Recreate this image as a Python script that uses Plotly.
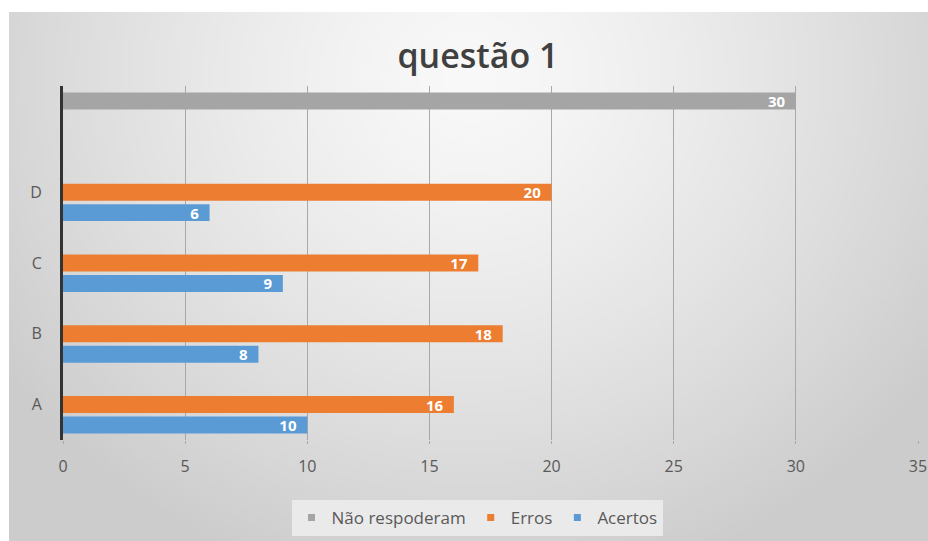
import base64, struct, zlib
import numpy as np
import plotly.graph_objects as go

# ---- data ----
categories = ["A", "B", "C", "D", " "]
acertos_cats = ["A", "B", "C", "D"]
acertos = [10, 8, 9, 6]
erros_cats = ["A", "B", "C", "D"]
erros = [16, 18, 17, 20]
nao_cats = [" "]
nao_responderam = [30]
x_ticks = [0, 5, 10, 15, 20, 25, 30, 35]

FONT = "Open Sans"
W, H = 928, 541
L, R, T, B = 63, 10, 86, 101
pw, ph = W - L - R, H - T - B

COL_A, COL_E, COL_N = "#5b9bd5", "#ed7d31", "#a5a5a5"

# ---- background gradient image (style only) ----
def gradient_png(w=240, h=140):
    yy, xx = np.mgrid[0:h, 0:w]
    cx, cy = w * 0.5, h * 0.12
    d = np.sqrt(((xx - cx) / (w * 0.62)) ** 2 + ((yy - cy) / (h * 1.0)) ** 2)
    d = np.clip(d, 0, 1)
    v = (249 - (249 - 204) * d ** 1.3).astype(np.uint8)
    raw = b"".join(b"\x00" + bytes(np.stack([row, row, row], axis=1).flatten()) for row in v)
    def chunk(t, data):
        c = struct.pack(">I", len(data)) + t + data
        return c + struct.pack(">I", zlib.crc32(t + data) & 0xffffffff)
    png = b"\x89PNG\r\n\x1a\n" + chunk(b"IHDR", struct.pack(">IIBBBBB", w, h, 8, 2, 0, 0, 0)) \
        + chunk(b"IDAT", zlib.compress(raw, 9)) + chunk(b"IEND", b"")
    return "data:image/png;base64," + base64.b64encode(png).decode()

fig = go.Figure()
label_font = dict(family=FONT, size=15, color="white", weight="bold")
for name, ys, xs, col in [("Acertos", acertos_cats, acertos, COL_A),
                          ("Erros", erros_cats, erros, COL_E),
                          ("Não respoderam", nao_cats, nao_responderam, COL_N)]:
    fig.add_trace(go.Bar(name=name, y=ys, x=xs, orientation="h", marker_color=col,
                         marker_line_width=0, texttemplate="%{x}\u00a0\u00a0",
                         textposition="inside",
                         insidetextanchor="end", textangle=0, textfont=label_font,
                         cliponaxis=False, showlegend=False))
# legend entries with small square swatches
for name, col in [("Acertos", COL_A), ("Erros", COL_E), ("Não respoderam", COL_N)]:
    fig.add_trace(go.Scatter(name=name, x=[None], y=[None], mode="markers",
                             marker=dict(symbol="square", size=7, color=col), showlegend=True))

x0p = (9 - L) / pw
x1p = (W - L) / pw
y1p = (T + ph - 12) / ph
y0p = (T + ph - H) / ph

fig.update_layout(
    width=W, height=H,
    margin=dict(l=L, r=R, t=T, b=B, autoexpand=False),
    paper_bgcolor="white",
    plot_bgcolor="rgba(0,0,0,0)",
    barmode="group",
    bargap=0.134,
    bargroupgap=0.17,
    uniformtext=dict(mode="show", minsize=15),
    title=dict(text="questão 1", x=478 / W, xanchor="center", y=1 - 56 / H, yanchor="middle",
               font=dict(family=FONT, size=34, color="#404040", weight=600)),
    legend=dict(orientation="h", traceorder="reversed", x=(477 - L) / pw, xanchor="center",
                y=(T + ph - 518) / ph, yanchor="middle",
                font=dict(family=FONT, size=17, color="#595959"),
                bgcolor="rgba(236,236,236,0.9)", itemwidth=30, tracegroupgap=0),
    xaxis=dict(range=[0, 35], tickvals=x_ticks, showgrid=True, gridcolor="#a8a8a8", gridwidth=1,
               zeroline=False, ticks="outside", ticklen=3, tickcolor="#a8a8a8",
               automargin=False, ticklabelstandoff=9,
               tickfont=dict(family=FONT, size=16, color="#595959"), fixedrange=True),
    yaxis=dict(categoryorder="array", categoryarray=categories, showgrid=False,
               showline=True, linecolor="#333333", linewidth=3, ticks="",
               ticklabelstandoff=15, automargin=False,
               tickfont=dict(family=FONT, size=16, color="#595959")),
    images=[dict(source=gradient_png(), xref="paper", yref="paper", x=x0p, y=y1p,
                 sizex=x1p - x0p, sizey=y1p - y0p, sizing="stretch", layer="below",
                 xanchor="left", yanchor="top")],
)
fig.write_html("out.html")
